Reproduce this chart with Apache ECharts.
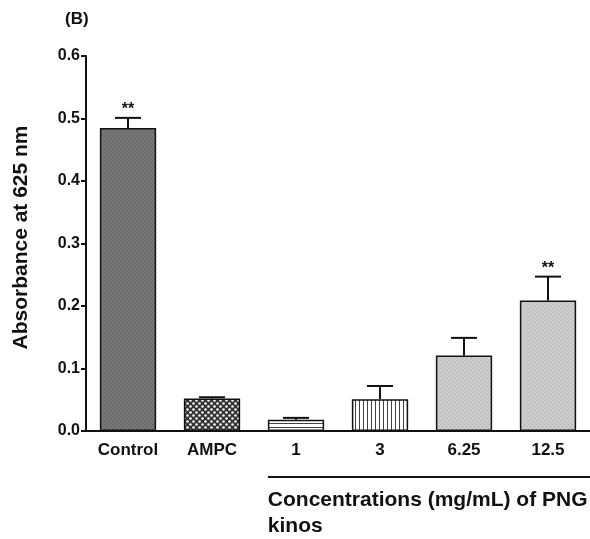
<!DOCTYPE html>
<html><head><meta charset="utf-8">
<script src="https://cdn.jsdelivr.net/npm/echarts@6/dist/echarts.min.js"></script>
<style>html,body{margin:0;padding:0;background:#fff}#c{width:590px;height:539px}</style>
</head><body><div id="c"></div>
<script>
const categories = ['Control', 'AMPC', '1', '3', '6.25', '12.5'];
const means = [0.485, 0.052, 0.018, 0.051, 0.121, 0.209];
const errors = [0.016, 0.002, 0.003, 0.021, 0.028, 0.038];
const stars = ['**', '', '', '', '', '**'];
const yTicks = [0, 0.1, 0.2, 0.3, 0.4, 0.5, 0.6];

function pat(kind) {
  const c = document.createElement('canvas');
  const g = c.getContext('2d');
  if (kind === 'dark') {
    c.width = 4; c.height = 4;
    g.fillStyle = '#737373'; g.fillRect(0, 0, 4, 4);
    g.fillStyle = '#5e5e5e'; g.fillRect(0, 0, 1, 1); g.fillRect(2, 2, 1, 1);
    g.fillStyle = '#858585'; g.fillRect(2, 0, 1, 1); g.fillRect(0, 2, 1, 1);
  } else if (kind === 'check') {
    c.width = 6; c.height = 6;
    g.fillStyle = '#333'; g.fillRect(0, 0, 6, 6);
    g.fillStyle = '#fff';
    g.beginPath(); g.arc(1.5, 1.5, 1.3, 0, Math.PI * 2); g.fill();
    g.beginPath(); g.arc(4.5, 4.5, 1.3, 0, Math.PI * 2); g.fill();
  } else if (kind === 'hline') {
    c.width = 4; c.height = 4;
    g.fillStyle = '#fff'; g.fillRect(0, 0, 4, 4);
    g.fillStyle = '#444'; g.fillRect(0, 3, 4, 1);
  } else if (kind === 'vline') {
    c.width = 4; c.height = 4;
    g.fillStyle = '#fff'; g.fillRect(0, 0, 4, 4);
    g.fillStyle = '#444'; g.fillRect(3, 0, 1, 4);
  } else {
    c.width = 4; c.height = 4;
    g.fillStyle = '#c9c9c9'; g.fillRect(0, 0, 4, 4);
    g.fillStyle = '#b3b3b3'; g.fillRect(0, 0, 1, 1); g.fillRect(2, 2, 1, 1);
    g.fillStyle = '#dcdcdc'; g.fillRect(2, 0, 1, 1); g.fillRect(0, 2, 1, 1);
  }
  return { image: c, repeat: 'repeat' };
}
const fills = [pat('dark'), pat('check'), pat('hline'), pat('vline'), pat('light'), pat('light')];

const FONT = 'Liberation Sans, Arial, sans-serif';
const chart = echarts.init(document.getElementById('c'), null, { renderer: 'canvas' });

const barData = means.map((v, i) => ({
  value: v,
  itemStyle: { color: fills[i], borderColor: '#111', borderWidth: 1.5 }
}));
const errData = means.map((v, i) => [i, v, v + errors[i], stars[i]]);

chart.setOption({
  animation: false,
  backgroundColor: '#fff',
  grid: { left: 86, right: 0, top: 56, bottom: 108, containLabel: false },
  xAxis: {
    type: 'category',
    data: categories,
    axisLine: { lineStyle: { color: '#111', width: 2 } },
    axisTick: { alignWithLabel: true, length: 5, lineStyle: { color: '#111', width: 2 } },
    axisLabel: { color: '#111', fontFamily: FONT, fontWeight: 'bold', fontSize: 17, margin: 11 }
  },
  yAxis: {
    type: 'value',
    min: yTicks[0], max: yTicks[yTicks.length - 1], interval: 0.1,
    name: 'Absorbance at 625 nm',
    nameLocation: 'middle', nameGap: 54, nameRotate: 90,
    nameTextStyle: { color: '#111', fontFamily: FONT, fontWeight: 'bold', fontSize: 21, padding: [0, 0, 0, 12] },
    splitLine: { show: false },
    axisLine: { show: true, lineStyle: { color: '#111', width: 2 } },
    axisTick: { show: true, length: 5, lineStyle: { color: '#111', width: 2 } },
    axisLabel: { color: '#111', fontFamily: FONT, fontWeight: 'bold', fontSize: 16, margin: 6,
      formatter: v => v.toFixed(1) }
  },
  series: [
    { type: 'bar', data: barData, barWidth: '67%', z: 2 },
    {
      type: 'custom', z: 3, data: errData,
      renderItem: function (params, api) {
        const b = api.coord([api.value(0), api.value(1)]);
        const t = api.coord([api.value(0), api.value(2)]);
        const hw = 13;
        const st = { stroke: '#111', lineWidth: 2 };
        const children = [
          { type: 'line', shape: { x1: b[0], y1: b[1], x2: t[0], y2: t[1] }, style: st },
          { type: 'line', shape: { x1: t[0] - hw, y1: t[1], x2: t[0] + hw, y2: t[1] }, style: st }
        ];
        const s = errData[params.dataIndex][3];
        if (s) children.push({ type: 'text', style: { text: s, x: t[0], y: t[1], textAlign: 'center', textVerticalAlign: 'bottom', fill: '#111', font: 'bold 16px ' + FONT } });
        return { type: 'group', children: children };
      }
    }
  ]
});

const p2 = chart.convertToPixel({ xAxisIndex: 0 }, 2);
const p3 = chart.convertToPixel({ xAxisIndex: 0 }, 3);
const band = p3 - p2;
const lineLeft = p2 - band * 0.67 / 2;
chart.setOption({
  graphic: [
    { type: 'text', left: 65, top: 11, style: { text: '(B)', fill: '#111', font: 'bold 17px ' + FONT } },
    { type: 'line', shape: { x1: lineLeft, y1: 477, x2: 590, y2: 477 }, style: { stroke: '#111', lineWidth: 2 } },
    { type: 'text', x: lineLeft, y: 487, style: { text: 'Concentrations (mg/mL) of PNG\nkinos', fill: '#111', font: 'bold 21px ' + FONT, lineHeight: 26 } }
  ]
});
</script></body></html>
